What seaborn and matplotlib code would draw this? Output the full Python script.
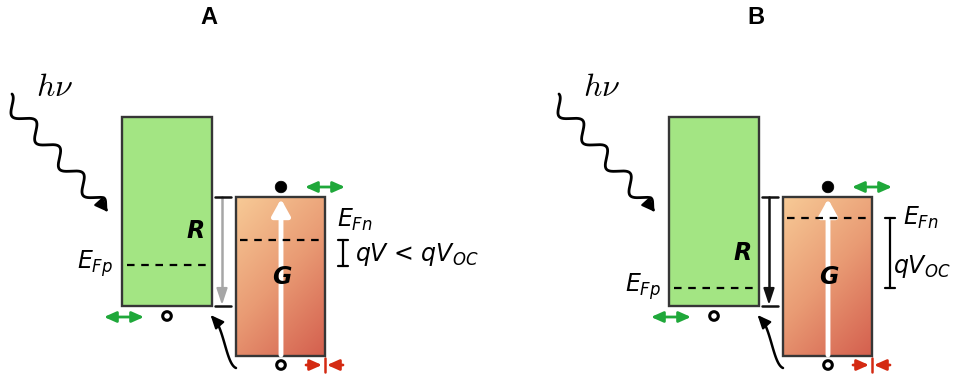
import numpy as np
import matplotlib
matplotlib.use("Agg")
import matplotlib.pyplot as plt
import seaborn as sns
from matplotlib.patches import Rectangle, Circle
from matplotlib.colors import LinearSegmentedColormap

sns.set_theme(style="white")
plt.rcParams["font.family"] = ["DejaVu Sans"]
plt.rcParams["mathtext.fontset"] = "dejavusans"
plt.rcParams["text.color"] = "black"

# Band diagram content for the two operating conditions
panel_titles = ["A", "B"]
efp_level = [265, 288]            # hole quasi-Fermi level in R (diagram units, y down)
efn_level = [240, 218]            # electron quasi-Fermi level in G
split_bottom = [266, 288]         # lower end of the marked splitting
voltage_label = [r"$qV$ < $qV_{OC}$", r"$qV_{OC}$"]
transfer_color = ["#a6a6a6", "#111111"]

# Layout of each panel (diagram units = pixels)
panel_shift = [0, 547]
efn_label_xy = [(337, 220), (903, 218)]
volt_label_xy = [(355, 254), (893, 266)]
volt_bar_x = [343, 890]
efp_label_x = [113, 661]
r_label_y = [231, 253]

GREEN_FILL = "#a3e583"
EDGE = "#363636"
ARROW_GREEN = "#1fa83a"
ARROW_RED = "#d42a12"

fig = plt.figure(figsize=(9.58, 3.79), dpi=100)
ax = fig.add_axes([0, 0, 1, 1])
ax.set_xlim(0, 958)
ax.set_ylim(379, 0)
ax.axis("off")

orange = LinearSegmentedColormap.from_list(
    "g_band", ["#f7ca96", "#e99b74", "#d45f4e"])


def wavy_photon(sx, sy, ex, ey, periods=4.3, amp=7.5):
    """Photon squiggle starting at (sx, sy) and ending with an arrowhead at (ex, ey)."""
    dx, dy = ex - sx, ey - sy
    L = np.hypot(dx, dy)
    nx, ny = -dy / L, dx / L
    x0, y0 = sx + amp * nx, sy + amp * ny
    dx, dy = ex - x0, ey - y0
    L = np.hypot(dx, dy)
    t = np.linspace(0, 1, 500)
    taper = np.clip((1 - t) / 0.09, 0, 1)
    off = amp * np.sin(2 * np.pi * periods * t - 0.5 * np.pi) * taper
    xs = x0 + dx * t + nx * off
    ys = y0 + dy * t + ny * off
    ax.plot(xs[:-8], ys[:-8], color="black", lw=2.0, solid_capstyle="round")
    ax.annotate("", xy=(xs[-1], ys[-1]),
                xytext=(xs[-1] - 11 * dx / L, ys[-1] - 11 * dy / L),
                arrowprops=dict(arrowstyle="-|>,head_length=0.8,head_width=0.35",
                                color="black", lw=1.5, mutation_scale=10,
                                shrinkA=0, shrinkB=0))


def double_arrow(x0, x1, y):
    ax.annotate("", xy=(x1, y), xytext=(x0, y),
                arrowprops=dict(arrowstyle="<|-|>,head_length=0.9,head_width=0.4",
                                color=ARROW_GREEN, lw=2.0, mutation_scale=8,
                                shrinkA=0, shrinkB=0))


def hole(x, y):
    ax.add_patch(Circle((x, y), 4.3, fc="white", ec="black", lw=2.2, zorder=6))


def electron(x, y):
    ax.add_patch(Circle((x, y), 5.8, fc="black", ec="black", lw=0.5, zorder=6))


for i, title in enumerate(panel_titles):
    s = panel_shift[i]

    ax.text(209 + s, 18, title, ha="center", va="center", fontsize=17,
            fontweight="bold", family="Liberation Sans")

    # photon
    ax.text(55 + s, 88, r"$h\nu$", ha="center", va="center", fontsize=23,
            math_fontfamily="cm")
    wavy_photon(12 + s, 94, 108 + s, 212)

    # R band
    rx0, rx1, ry0, ry1 = 122 + s, 212 + s, 117, 306
    ax.add_patch(Rectangle((rx0, ry0), rx1 - rx0, ry1 - ry0, fc=GREEN_FILL,
                           ec=EDGE, lw=1.7, zorder=3))
    ax.text(196 + s, r_label_y[i], "R", ha="center", va="center",
            fontsize=17, fontweight="bold", style="italic", zorder=4)
    ax.plot([rx0 + 5, rx1 - 4], [efp_level[i]] * 2, color="black", lw=1.6,
            linestyle=(0, (3.4, 3.0)), zorder=4)
    ax.text(efp_label_x[i], efp_level[i] - 1, r"$E_{Fp}$", ha="right",
            va="center", fontsize=17)
    double_arrow(104 + s, 144 + s, 317)
    hole(167 + s, 316)

    # G band with gradient
    gx0, gx1, gy0, gy1 = 236 + s, 325 + s, 197, 356
    yy, xx = np.mgrid[0:1:200j, 0:1:120j]
    grad = (xx * 0.45 + yy * 0.75) / 1.2
    ax.imshow(grad, cmap=orange, extent=(gx0, gx1, gy1, gy0), origin="upper",
              aspect="auto", zorder=2, interpolation="bilinear")
    ax.add_patch(Rectangle((gx0, gy0), gx1 - gx0, gy1 - gy0, fill=False,
                           ec=EDGE, lw=1.7, zorder=3))
    ax.annotate("", xy=(281 + s, 199), xytext=(281 + s, 355),
                arrowprops=dict(arrowstyle="-|>,head_length=0.9,head_width=0.5",
                                color="white", lw=3.5, mutation_scale=11,
                                shrinkA=0, shrinkB=0), zorder=4)
    ax.text(282 + s, 277, "G", ha="center", va="center", fontsize=17,
            fontweight="bold", style="italic", zorder=5)
    ax.plot([gx0 + 4, gx1 - 4], [efn_level[i]] * 2, color="black", lw=1.6,
            linestyle=(0, (3.4, 3.0)), zorder=4)
    electron(281 + s, 187)
    hole(281 + s, 365)
    double_arrow(305 + s, 345 + s, 187)

    # red contact arrows
    ax.annotate("", xy=(322 + s, 365), xytext=(306 + s, 365),
                arrowprops=dict(arrowstyle="-|>,head_length=0.9,head_width=0.4",
                                color=ARROW_RED, lw=2.0, mutation_scale=8,
                                shrinkA=0, shrinkB=0))
    ax.annotate("", xy=(327 + s, 365), xytext=(343 + s, 365),
                arrowprops=dict(arrowstyle="-|>,head_length=0.9,head_width=0.4",
                                color=ARROW_RED, lw=2.0, mutation_scale=8,
                                shrinkA=0, shrinkB=0))
    ax.plot([325 + s, 325 + s], [358, 372], color=ARROW_RED, lw=1.8)

    # transfer arrow between bands
    tx = 222 + s
    ax.plot([tx, tx], [197, 298], color=transfer_color[i], lw=1.8)
    ax.annotate("", xy=(tx, 305), xytext=(tx, 290),
                arrowprops=dict(arrowstyle="-|>,head_length=0.9,head_width=0.3",
                                color=transfer_color[i], lw=1.5, mutation_scale=11,
                                shrinkA=0, shrinkB=0))
    for yc in (197, 306):
        ax.plot([tx - 7, tx + 9], [yc, yc], color="#111111", lw=1.8)

    # recombination path back to R
    P = np.array([[236 + s, 368], [226 + s, 364], [224 + s, 326], [212 + s, 316]])
    t = np.linspace(0, 1, 100)[:, None]
    curve = ((1 - t) ** 3) * P[0] + 3 * ((1 - t) ** 2) * t * P[1] \
        + 3 * (1 - t) * t ** 2 * P[2] + t ** 3 * P[3]
    ax.plot(curve[:-6, 0], curve[:-6, 1], color="black", lw=1.8)
    ax.annotate("", xy=(curve[-1, 0] - 1.5, curve[-1, 1] - 1),
                xytext=(curve[-15, 0], curve[-15, 1]),
                arrowprops=dict(arrowstyle="-|>,head_length=0.8,head_width=0.35",
                                color="black", lw=1.5, mutation_scale=10,
                                shrinkA=0, shrinkB=0))

    # quasi-Fermi level splitting
    bx = volt_bar_x[i]
    ytop, ybot = efn_level[i], split_bottom[i]
    ax.plot([bx, bx], [ytop, ybot], color="black", lw=1.6)
    for yc in (ytop, ybot):
        ax.plot([bx - 5, bx + 5], [yc, yc], color="black", lw=1.6)
    ax.text(*efn_label_xy[i], r"$E_{Fn}$", ha="left", va="center", fontsize=17)
    ax.text(*volt_label_xy[i], voltage_label[i], ha="left", va="center",
            fontsize=17)

fig.savefig("out.png", dpi=100)
